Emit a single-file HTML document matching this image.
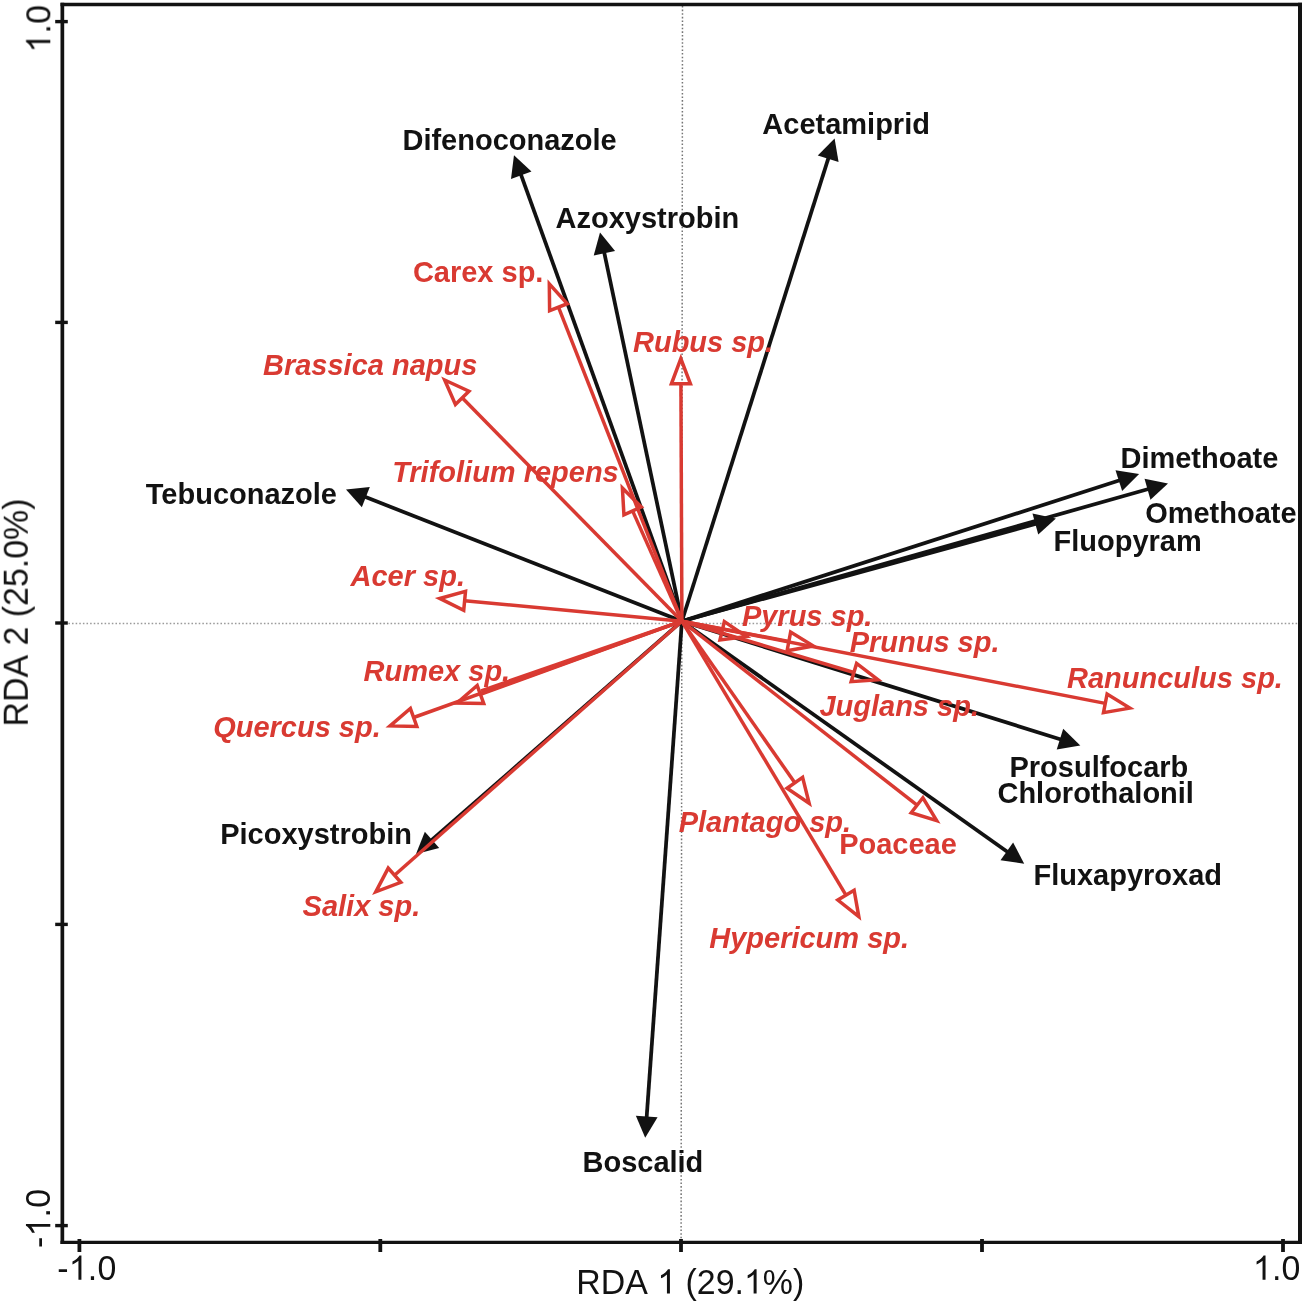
<!DOCTYPE html>
<html><head><meta charset="utf-8"><title>RDA biplot</title>
<style>
html,body{margin:0;padding:0;background:#fff;}
body{width:1304px;height:1304px;overflow:hidden;}
svg{display:block;}
text{font-family:"Liberation Sans",sans-serif;}
.lb{font-weight:bold;font-size:29px;}
.it{font-style:italic;}
.ax{font-size:33.9px;fill:#121212;font-kerning:none;white-space:pre;}
</style></head><body>
<svg width="1304" height="1304" viewBox="0 0 1304 1304">
<rect x="0" y="0" width="1304" height="1304" fill="#ffffff"/>
<line x1="682.5" y1="6" x2="681.1" y2="1241" stroke="#747474" stroke-width="1.5" stroke-dasharray="1.55 2.07" fill="none"/>
<line x1="68.4" y1="623.5" x2="1298" y2="623.5" stroke="#9a9a9a" stroke-width="1.35" stroke-dasharray="1.55 2.07" fill="none"/>
<g stroke="#121212" fill="none" stroke-linecap="butt">
<line x1="60.5" y1="4.5" x2="1302" y2="4.5" stroke-width="3.4"/>
<line x1="60.5" y1="1242.3" x2="1302" y2="1242.3" stroke-width="3.2"/>
<line x1="62.35" y1="2.8" x2="62.35" y2="1243.9" stroke-width="3.7"/>
<line x1="1300" y1="2.8" x2="1300" y2="1243.9" stroke-width="4"/>
</g>
<line x1="79.4" y1="1239" x2="79.4" y2="1252" stroke="#121212" stroke-width="3.8"/>
<line x1="380.3" y1="1239" x2="380.3" y2="1252" stroke="#121212" stroke-width="3.8"/>
<line x1="681" y1="1239" x2="681" y2="1252" stroke="#121212" stroke-width="3.8"/>
<line x1="982" y1="1239" x2="982" y2="1252" stroke="#121212" stroke-width="3.8"/>
<line x1="1283" y1="1239" x2="1283" y2="1252" stroke="#121212" stroke-width="3.8"/>
<line x1="55.2" y1="21.6" x2="67.8" y2="21.6" stroke="#121212" stroke-width="3.4"/>
<line x1="55.2" y1="322.4" x2="67.8" y2="322.4" stroke="#121212" stroke-width="3.4"/>
<line x1="55.2" y1="623" x2="67.8" y2="623" stroke="#121212" stroke-width="3.4"/>
<line x1="55.2" y1="924.4" x2="67.8" y2="924.4" stroke="#121212" stroke-width="3.4"/>
<line x1="55.2" y1="1225.6" x2="67.8" y2="1225.6" stroke="#121212" stroke-width="3.4"/>
<g stroke="#121212" stroke-width="3.75" fill="#121212" stroke-linecap="butt">
<line x1="681.9" y1="621.2" x2="520.88" y2="174.3"/>
<polygon stroke="none" points="514,155.2 531.47,171.54 510.97,178.93"/>
<line x1="681.9" y1="621.2" x2="604.19" y2="252.36"/>
<polygon stroke="none" points="600,232.5 615.06,251.1 593.73,255.59"/>
<line x1="681.9" y1="621.2" x2="828.48" y2="157.85"/>
<polygon stroke="none" points="834.6,138.5 838.57,162.1 817.78,155.52"/>
<line x1="681.9" y1="621.2" x2="364.9" y2="496.81"/>
<polygon stroke="none" points="346,489.4 369.81,487.03 361.85,507.33"/>
<line x1="681.9" y1="621.2" x2="1119.78" y2="480.32"/>
<polygon stroke="none" points="1139.1,474.1 1122.16,491 1115.49,470.25"/>
<line x1="681.9" y1="621.2" x2="1148.47" y2="488.94"/>
<polygon stroke="none" points="1168,483.4 1150.48,499.7 1144.53,478.72"/>
<line x1="681.9" y1="621.2" x2="1036.33" y2="523.78"/>
<polygon stroke="none" points="1055.9,518.4 1038.25,534.56 1032.47,513.54"/>
<line x1="681.9" y1="621.2" x2="1060.92" y2="739.45"/>
<polygon stroke="none" points="1080.3,745.5 1056.72,749.56 1063.21,728.75"/>
<line x1="681.9" y1="621.2" x2="1007.64" y2="851.97"/>
<polygon stroke="none" points="1024.2,863.7 1000.52,860.28 1013.12,842.49"/>
<line x1="681.9" y1="621.2" x2="431.28" y2="840.53"/>
<polygon stroke="none" points="416,853.9 424.85,831.67 439.21,848.08"/>
<line x1="681.9" y1="621.2" x2="646.64" y2="1117.45"/>
<polygon stroke="none" points="645.2,1137.7 635.84,1115.68 657.58,1117.23"/>
</g>
<g stroke="#d93a32" stroke-width="3.5" fill="none" stroke-linejoin="miter" stroke-miterlimit="10">
<line x1="681.9" y1="621.2" x2="558.45" y2="307.19"/>
<polygon points="549.3,283.93 567.29,303.72 549.61,310.67"/>
<line x1="681.9" y1="621.2" x2="462.19" y2="397.84"/>
<polygon points="444.66,380.02 468.96,391.18 455.42,404.5"/>
<line x1="681.9" y1="621.2" x2="632.6" y2="510.87"/>
<polygon points="622.4,488.05 641.27,506.99 623.92,514.75"/>
<line x1="681.9" y1="621.2" x2="680.92" y2="383.75"/>
<polygon points="680.82,358.75 690.42,383.71 671.42,383.79"/>
<line x1="681.9" y1="621.2" x2="464.62" y2="600.77"/>
<polygon points="439.73,598.44 465.51,591.32 463.73,610.23"/>
<line x1="681.9" y1="621.2" x2="480.46" y2="694.47"/>
<polygon points="456.97,703.01 477.22,685.54 483.71,703.39"/>
<line x1="681.9" y1="621.2" x2="413.61" y2="717.48"/>
<polygon points="390.08,725.93 410.4,708.54 416.82,726.43"/>
<line x1="681.9" y1="621.2" x2="394.51" y2="875.26"/>
<polygon points="375.78,891.82 388.22,868.14 400.81,882.38"/>
<line x1="681.9" y1="621.2" x2="722.15" y2="630.75"/>
<polygon points="746.48,636.53 719.96,640 724.35,621.51"/>
<line x1="681.9" y1="621.2" x2="788.86" y2="641.4"/>
<polygon points="813.43,646.04 787.1,650.73 790.63,632.06"/>
<line x1="681.9" y1="621.2" x2="853.89" y2="672.52"/>
<polygon points="877.84,679.67 851.17,681.63 856.6,663.42"/>
<line x1="681.9" y1="621.2" x2="1105.29" y2="703.35"/>
<polygon points="1129.84,708.11 1103.48,712.68 1107.1,694.03"/>
<line x1="681.9" y1="621.2" x2="794.82" y2="782.8"/>
<polygon points="809.14,803.29 787.03,788.24 802.6,777.35"/>
<line x1="681.9" y1="621.2" x2="917.05" y2="805.23"/>
<polygon points="936.74,820.63 911.2,812.71 922.91,797.75"/>
<line x1="681.9" y1="621.2" x2="845.97" y2="895.16"/>
<polygon points="858.81,916.61 837.82,900.04 854.12,890.28"/>
<line x1="681.9" y1="621.2" x2="481.1" y2="690.8"/>
</g>
<g opacity="0.999">
<text class="lb" transform="translate(402.45,150.4) scale(1,1.02)" fill="#121212">Difenoconazole</text>
<text class="lb" transform="translate(555.55,228) scale(1,1.02)" fill="#121212">Azoxystrobin</text>
<text class="lb" transform="translate(762.35,133.8) scale(1,1.02)" fill="#121212">Acetamiprid</text>
<text class="lb" transform="translate(145.8,503.6) scale(1,1.02)" fill="#121212">Tebuconazole</text>
<text class="lb" transform="translate(1120.45,468.2) scale(1,1.02)" fill="#121212">Dimethoate</text>
<text class="lb" transform="translate(1145.15,523.4) scale(1,1.02)" fill="#121212">Omethoate</text>
<text class="lb" transform="translate(1053.5,550.9) scale(1,1.02)" fill="#121212">Fluopyram</text>
<text class="lb" transform="translate(1009.5,776.5) scale(1,1.02)" fill="#121212">Prosulfocarb</text>
<text class="lb" transform="translate(997.45,802.5) scale(1,1.02)" fill="#121212">Chlorothalonil</text>
<text class="lb" transform="translate(1033.5,884.5) scale(1,1.02)" fill="#121212">Fluxapyroxad</text>
<text class="lb" transform="translate(220.2,843.5) scale(1,1.02)" fill="#121212">Picoxystrobin</text>
<text class="lb" transform="translate(582.5,1172.3) scale(1,1.02)" fill="#121212">Boscalid</text>
<text class="lb" transform="translate(412.9,281.7) scale(1,1.02)" fill="#d93a32">Carex sp.</text>
<text class="lb it" transform="translate(263,374.7) scale(1,1.02)" fill="#d93a32">Brassica napus</text>
<text class="lb it" transform="translate(392.15,482) scale(1,1.02)" fill="#d93a32">Trifolium repens</text>
<text class="lb it" transform="translate(633,351.7) scale(1,1.02)" fill="#d93a32">Rubus sp.</text>
<text class="lb it" transform="translate(350.55,586.3) scale(1,1.02)" fill="#d93a32">Acer sp.</text>
<text class="lb it" transform="translate(363.55,681.3) scale(1,1.02)" fill="#d93a32">Rumex sp.</text>
<text class="lb it" transform="translate(213.2,736.9) scale(1,1.02)" fill="#d93a32">Quercus sp.</text>
<text class="lb it" transform="translate(302.6,915.9) scale(1,1.02)" fill="#d93a32">Salix sp.</text>
<text class="lb it" transform="translate(741.9,625.9) scale(1,1.02)" fill="#d93a32">Pyrus sp.</text>
<text class="lb it" transform="translate(849.7,652.2) scale(1,1.02)" fill="#d93a32">Prunus sp.</text>
<text class="lb it" transform="translate(819.45,715.5) scale(1,1.02)" fill="#d93a32">Juglans sp.</text>
<text class="lb it" transform="translate(1067.05,687.8) scale(1,1.02)" fill="#d93a32">Ranunculus sp.</text>
<text class="lb it" transform="translate(678.7,831.7) scale(1,1.02)" fill="#d93a32">Plantago sp.</text>
<text class="lb" transform="translate(839.2,853.5) scale(1,1.02)" fill="#d93a32">Poaceae</text>
<text class="lb it" transform="translate(709.25,947.7) scale(1,1.02)" fill="#d93a32">Hypericum sp.</text>
<g transform="translate(576.3,1293.6)">
<text class="ax" xml:space="preserve" transform="translate(0,0) scale(1,1.04)">RDA </text>
<path fill="#121212" transform="translate(80.99,0) scale(0.01655,-0.01655)" d="M763 0H583V1147Q518 1085 412.5 1023T223 930V1104Q374 1175 487 1276T647 1472H763Z"/>
<text class="ax" xml:space="preserve" transform="translate(99.84,0) scale(1,1.04)"> (29.</text>
<path fill="#121212" transform="translate(167.67,0) scale(0.01655,-0.01655)" d="M763 0H583V1147Q518 1085 412.5 1023T223 930V1104Q374 1175 487 1276T647 1472H763Z"/>
<text class="ax" xml:space="preserve" transform="translate(186.52,0) scale(1,1.04)">%)</text>
</g>
<g transform="translate(57.3,1279.8)">
<text class="ax" xml:space="preserve" transform="translate(0,0) scale(1,1.04)" style="letter-spacing:0.2px">-</text>
<path fill="#121212" transform="translate(11.49,0) scale(0.01655,-0.01655)" d="M763 0H583V1147Q518 1085 412.5 1023T223 930V1104Q374 1175 487 1276T647 1472H763Z"/>
<text class="ax" xml:space="preserve" transform="translate(30.54,0) scale(1,1.04)" style="letter-spacing:0.2px">.0</text>
</g>
<g transform="translate(1252.9,1279.8)">
<path fill="#121212" transform="translate(0,0) scale(0.01655,-0.01655)" d="M763 0H583V1147Q518 1085 412.5 1023T223 930V1104Q374 1175 487 1276T647 1472H763Z"/>
<text class="ax" xml:space="preserve" transform="translate(19.05,0) scale(1,1.04)" style="letter-spacing:0.2px">.0</text>
</g>
<g transform="translate(28,726.5) rotate(-90)">
<text class="ax" xml:space="preserve" transform="translate(0,0) scale(1,1.04)">RDA 2 (25.0%)</text>
</g>
<g transform="translate(50.3,1248) rotate(-90)">
<text class="ax" xml:space="preserve" transform="translate(0,0) scale(1,1.04)" style="letter-spacing:0.2px">-</text>
<path fill="#121212" transform="translate(11.49,0) scale(0.01655,-0.01655)" d="M763 0H583V1147Q518 1085 412.5 1023T223 930V1104Q374 1175 487 1276T647 1472H763Z"/>
<text class="ax" xml:space="preserve" transform="translate(30.54,0) scale(1,1.04)" style="letter-spacing:0.2px">.0</text>
</g>
<g transform="translate(50.3,52.6) rotate(-90)">
<path fill="#121212" transform="translate(0,0) scale(0.01655,-0.01655)" d="M763 0H583V1147Q518 1085 412.5 1023T223 930V1104Q374 1175 487 1276T647 1472H763Z"/>
<text class="ax" xml:space="preserve" transform="translate(19.05,0) scale(1,1.04)" style="letter-spacing:0.2px">.0</text>
</g>
</g>
</svg></body></html>
